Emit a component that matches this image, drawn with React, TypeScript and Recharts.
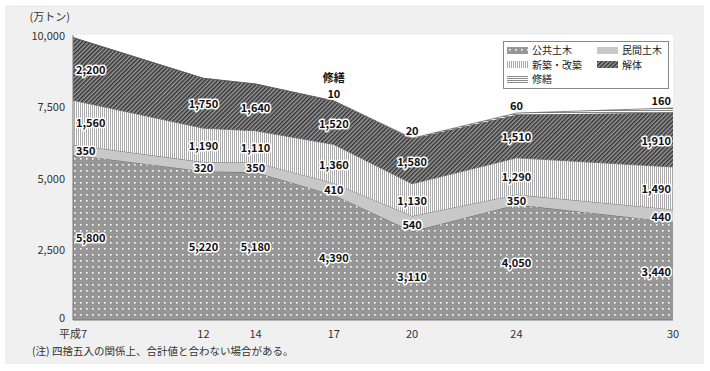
import React from "react";
import {
  ComposedChart,
  Area,
  Line,
  XAxis,
  YAxis,
  CartesianGrid,
  LabelList,
} from "recharts";

// 平成年度ごとの建設廃棄物排出量（万トン）
const years = [7, 12, 14, 17, 20, 24, 30];
const yearLabels = ["平成7", "12", "14", "17", "20", "24", "30"];
const koukyou = [5800, 5220, 5180, 4390, 3110, 4050, 3440]; // 公共土木
const minkan = [350, 320, 350, 410, 540, 350, 440]; // 民間土木
const shinchiku = [1560, 1190, 1110, 1360, 1130, 1290, 1490]; // 新築・改築
const kaitai = [2200, 1750, 1640, 1520, 1580, 1510, 1910]; // 解体
const shuzen = [0, 0, 0, 10, 20, 60, 160]; // 修繕
const yTicks = [0, 2500, 5000, 7500, 10000];

const data = years.map((year, i) => {
  const b1 = koukyou[i];
  const b2 = b1 + minkan[i];
  const b3 = b2 + shinchiku[i];
  const b4 = b3 + kaitai[i];
  return {
    year,
    koukyou: koukyou[i],
    minkan: minkan[i],
    shinchiku: shinchiku[i],
    kaitai: kaitai[i],
    shuzen: shuzen[i],
    mid1: b1 / 2,
    mid2: (b1 + b2) / 2,
    mid3: (b2 + b3) / 2,
    mid4: (b3 + b4) / 2,
    top: b4 + shuzen[i],
  };
});

const FONT = '"Noto Sans CJK JP", "Noto Sans", sans-serif';
const fmt = (v: number) => v.toLocaleString("en-US");

const labelStyle: React.CSSProperties = {
  fontSize: 11,
  fontWeight: "bold",
  fill: "#111",
  stroke: "#fff",
  strokeWidth: 3,
  paintOrder: "stroke",
  strokeLinejoin: "round",
  fontFamily: FONT,
};

const anchorFor = (index: number) => {
  const last = years.length - 1;
  if (index === 0) return { anchor: "start", dx: 3 };
  if (index === last) return { anchor: "end", dx: -2 };
  return { anchor: "middle", dx: 0 };
};

const bandLabel = (values: number[]) => (props: any) => {
  const { x, y, index } = props;
  const { anchor, dx } = anchorFor(index);
  return (
    <text
      x={x + dx}
      y={y}
      textAnchor={anchor as any}
      dominantBaseline="central"
      style={labelStyle}
    >
      {fmt(values[index])}
    </text>
  );
};

const topLabel = (props: any) => {
  const { x, y, index } = props;
  if (!shuzen[index]) return null;
  const { anchor, dx } = anchorFor(index);
  return (
    <g>
      {index === 3 && (
        <text
          x={x + dx}
          y={y - 24}
          textAnchor={anchor as any}
          dominantBaseline="central"
          style={labelStyle}
        >
          修繕
        </text>
      )}
      <text
        x={x + dx}
        y={y - 8}
        textAnchor={anchor as any}
        dominantBaseline="central"
        style={labelStyle}
      >
        {fmt(shuzen[index])}
      </text>
    </g>
  );
};

const YTick = (props: any) => {
  const { x, y, payload } = props;
  return (
    <text
      x={x}
      y={payload.value === 0 ? y - 3 : y}
      textAnchor="end"
      dominantBaseline="central"
      style={{ fontSize: 11, fill: "#333", fontFamily: FONT }}
    >
      {fmt(payload.value)}
    </text>
  );
};

const legendItems = [
  { name: "公共土木", fill: "url(#dots)" },
  { name: "民間土木", fill: "#c8c8c8" },
  { name: "新築・改築", fill: "url(#vlines)" },
  { name: "解体", fill: "url(#hatch)" },
  { name: "修繕", fill: "url(#hlines)" },
];

const Patterns = () => (
  <svg width={0} height={0} style={{ position: "absolute" }}>
    <defs>
      <pattern id="dots" patternUnits="userSpaceOnUse" width={6} height={6}>
        <rect width={6} height={6} fill="#969696" />
        <rect x={2} y={2} width={1.6} height={1.6} fill="#fff" />
      </pattern>
      <pattern id="vlines" patternUnits="userSpaceOnUse" width={2} height={4}>
        <rect width={2} height={4} fill="#fff" />
        <rect width={1} height={4} fill="#aaa" />
      </pattern>
      <pattern
        id="hatch"
        patternUnits="userSpaceOnUse"
        width={3}
        height={3}
        patternTransform="rotate(45)"
      >
        <rect width={3} height={3} fill="#9a9a9a" />
        <rect width={1.5} height={3} fill="#333" />
      </pattern>
      <pattern id="hlines" patternUnits="userSpaceOnUse" width={4} height={2}>
        <rect width={4} height={2} fill="#fff" />
        <rect width={4} height={1} fill="#888" />
      </pattern>
    </defs>
  </svg>
);

const LegendBox = () => (
  <div
    style={{
      position: "absolute",
      left: 503,
      top: 41,
      width: 166,
      height: 48,
      boxSizing: "border-box",
      border: "1px solid #888",
      background: "#fff",
      padding: "1px 0 0 3px",
      display: "flex",
      flexWrap: "wrap",
      alignContent: "flex-start",
      fontFamily: FONT,
      fontSize: 10,
      color: "#222",
    }}
  >
    {legendItems.map((it, i) => (
      <div
        key={it.name}
        style={{
          width: i % 2 === 0 ? 90 : 70,
          height: 14.6,
          display: "flex",
          alignItems: "center",
          lineHeight: "14px",
        }}
      >
        <svg width={21} height={7} style={{ marginRight: 4 }}>
          <rect width={21} height={7} fill={it.fill} />
        </svg>
        <span>{it.name}</span>
      </div>
    ))}
  </div>
);

const hiddenLine = {
  stroke: "none",
  dot: false,
  activeDot: false,
  legendType: "none" as const,
  isAnimationActive: false,
};

export default function App() {
  return (
    <div
      style={{
        position: "absolute",
        left: 0,
        top: 0,
        width: 710,
        height: 371,
        background: "#fff",
        fontFamily: FONT,
      }}
    >
      <Patterns />
      <div
        style={{
          position: "absolute",
          left: 5,
          top: 5,
          width: 699,
          height: 359,
          background: "#f0f0f0",
        }}
      />
      <div
        style={{
          position: "absolute",
          right: 710 - 70,
          top: 10,
          fontSize: 11,
          lineHeight: "13px",
          color: "#333",
          whiteSpace: "nowrap",
        }}
      >
        (万トン)
      </div>
      <div
        style={{
          position: "absolute",
          left: 32,
          top: 344,
          fontSize: 10.5,
          lineHeight: "13px",
          color: "#333",
          whiteSpace: "nowrap",
        }}
      >
        (注) 四捨五入の関係上、合計値と合わない場合がある。
      </div>
      <div style={{ position: "absolute", left: 0, top: 0 }}>
        <ComposedChart
          width={710}
          height={371}
          data={data}
          margin={{ top: 35, right: 37, bottom: 31, left: 13 }}
        >
          <CartesianGrid horizontal={false} vertical={false} fill="#fff" />
          <XAxis
            type="number"
            dataKey="year"
            domain={[7, 30]}
            ticks={years}
            interval={0}
            tickFormatter={(v: number) => yearLabels[years.indexOf(v)]}
            tickLine={false}
            axisLine={{ stroke: "#777" }}
            tick={{ fontSize: 11, fill: "#333", fontFamily: FONT, dy: 2 }}
            height={20}
          />
          <XAxis
            xAxisId="top"
            orientation="top"
            type="number"
            domain={[7, 30]}
            tick={false}
            tickLine={false}
            axisLine={{ stroke: "#999" }}
            height={0}
          />
          <YAxis
            type="number"
            domain={[0, 10000]}
            ticks={yTicks}
            interval={0}
            tickLine={false}
            axisLine={{ stroke: "#777" }}
            tick={<YTick />}
            width={60}
          />
          <YAxis
            yAxisId="right"
            orientation="right"
            domain={[0, 10000]}
            tick={false}
            tickLine={false}
            axisLine={{ stroke: "#999" }}
            width={0}
          />
          <Area
            dataKey="koukyou"
            stackId="1"
            type="linear"
            fill="url(#dots)"
            fillOpacity={1}
            stroke="#555"
            strokeWidth={0.7}
            isAnimationActive={false}
          />
          <Area
            dataKey="minkan"
            stackId="1"
            type="linear"
            fill="#c8c8c8"
            fillOpacity={1}
            stroke="#555"
            strokeWidth={0.7}
            isAnimationActive={false}
          />
          <Area
            dataKey="shinchiku"
            stackId="1"
            type="linear"
            fill="url(#vlines)"
            fillOpacity={1}
            stroke="#555"
            strokeWidth={0.7}
            isAnimationActive={false}
          />
          <Area
            dataKey="kaitai"
            stackId="1"
            type="linear"
            fill="url(#hatch)"
            fillOpacity={1}
            stroke="#555"
            strokeWidth={0.7}
            isAnimationActive={false}
          />
          <Area
            dataKey="shuzen"
            stackId="1"
            type="linear"
            fill="url(#hlines)"
            fillOpacity={1}
            stroke="#555"
            strokeWidth={0.7}
            isAnimationActive={false}
          />
          <Line dataKey="mid1" {...hiddenLine}>
            <LabelList dataKey="mid1" content={bandLabel(koukyou)} />
          </Line>
          <Line dataKey="mid2" {...hiddenLine}>
            <LabelList dataKey="mid2" content={bandLabel(minkan)} />
          </Line>
          <Line dataKey="mid3" {...hiddenLine}>
            <LabelList dataKey="mid3" content={bandLabel(shinchiku)} />
          </Line>
          <Line dataKey="mid4" {...hiddenLine}>
            <LabelList dataKey="mid4" content={bandLabel(kaitai)} />
          </Line>
          <Line dataKey="top" {...hiddenLine}>
            <LabelList dataKey="top" content={topLabel} />
          </Line>
        </ComposedChart>
      </div>
      <LegendBox />
    </div>
  );
}
